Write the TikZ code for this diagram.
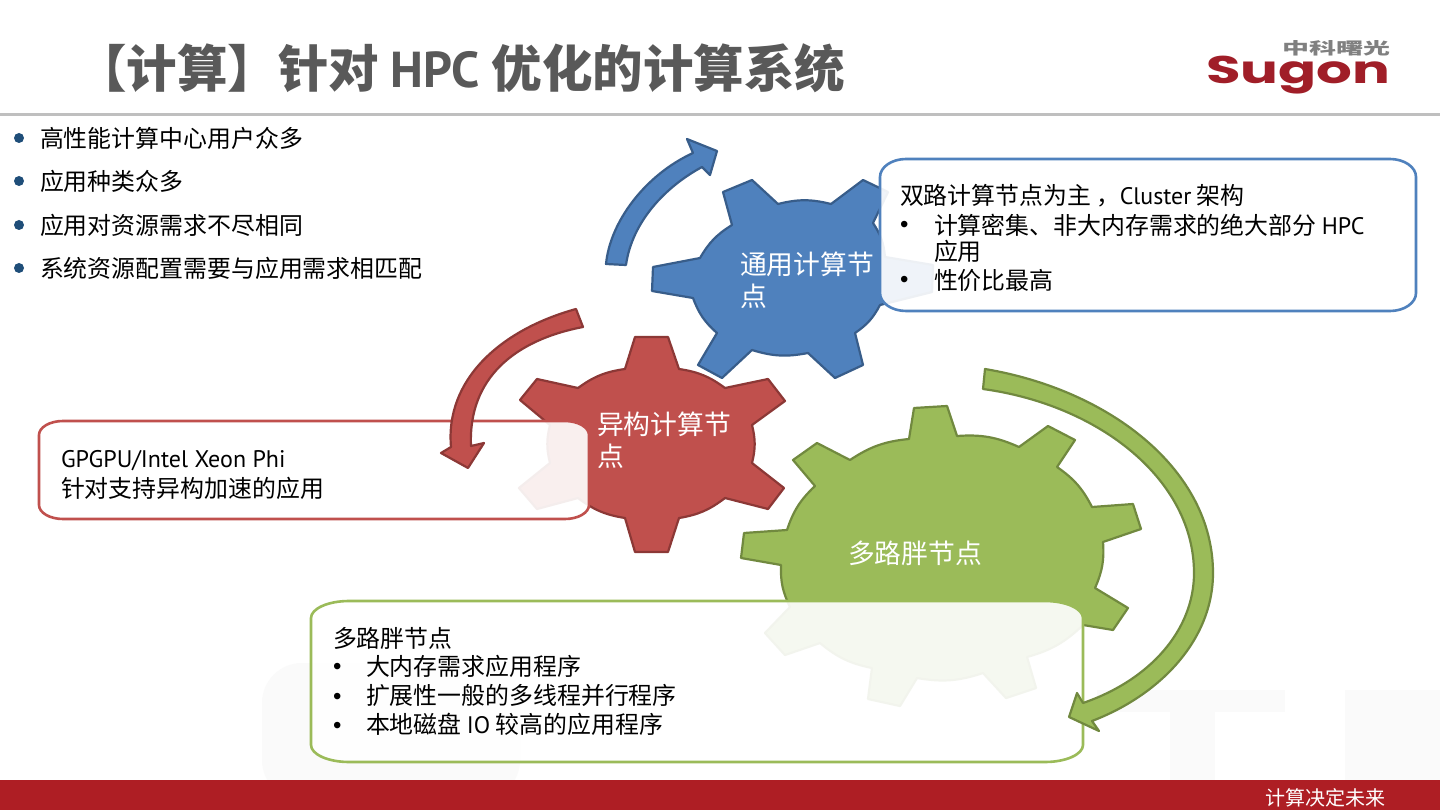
\documentclass[tikz,border=0pt]{standalone}
\usepackage{fontspec}
\usepackage{xcolor}
\setmainfont{Noto Sans CJK SC}
\newfontfamily\logofont{Poppins}
\newfontfamily\latinfont{PT Sans}
\newfontfamily\dotfont{Liberation Sans}
\usetikzlibrary{arrows.meta,positioning}
\definecolor{gearblue}{RGB}{79,129,189}
\definecolor{gearred}{RGB}{192,80,77}
\definecolor{geargreen}{RGB}{155,187,89}
\definecolor{edgeblue}{RGB}{56,93,138}
\definecolor{edgered}{RGB}{140,56,54}
\definecolor{edgegreen}{RGB}{113,137,63}
\definecolor{bandred}{RGB}{174,30,36}
\definecolor{logored}{RGB}{160,30,40}
\definecolor{titlegray}{RGB}{89,89,89}
\definecolor{rulegray}{RGB}{191,191,191}
\definecolor{dotblue}{RGB}{31,78,121}
\definecolor{markgray}{RGB}{250,250,250}
% x0 y0 x1 y1 rx ry
\newcommand{\calloutbox}[6]{({#1+#5},#2) -- ({#3-#5},#2) .. controls ({#3-.45*#5},#2) and (#3,{#2+.45*#6}) .. (#3,{#2+#6})
  -- (#3,{#4-#6}) .. controls (#3,{#4-.45*#6}) and ({#3-.45*#5},#4) .. ({#3-#5},#4)
  -- ({#1+#5},#4) .. controls ({#1+.45*#5},#4) and (#1,{#4-.45*#6}) .. (#1,{#4-#6})
  -- (#1,{#2+#6}) .. controls (#1,{#2+.45*#6}) and ({#1+.45*#5},#2) .. ({#1+#5},#2) -- cycle}

\begin{document}
\begin{tikzpicture}[x=1pt,y=-1pt,
  every node/.style={inner sep=0pt,outer sep=0pt},
  gearblue shape/.style={fill=gearblue,draw=edgeblue,line width=2.2pt,line join=round},
  gearred shape/.style={fill=gearred,draw=edgered,line width=2.2pt,line join=round},
  geargreen shape/.style={fill=geargreen,draw=edgegreen,line width=2.2pt,line join=round},
  arc edge/.style={bend left=14},
  callout/.style={fill=white,fill opacity=.91,line width=2.6pt},
  body/.style={anchor=base west,font=\fontsize{23.9}{26}\selectfont,text=black},
  bullet/.style={anchor=base west,font=\fontsize{24}{26}\selectfont\dotfont,text=black},
  gearlabel/.style={anchor=base west,font=\fontsize{26.8}{30}\selectfont,text=white},
  dot/.style={fill=dotblue,circle,minimum size=10pt}]
\useasboundingbox (0,0) rectangle (1440,810);
\fill[white] (0,0) rectangle (1440,810);
% watermark
\fill[markgray,rounded corners=40pt] (262,663) rectangle (520,800);
\fill[markgray] (1097,690) rectangle (1285,712);
\fill[markgray] (1170,690) rectangle (1215,780);
\fill[markgray] (1345,690) rectangle (1440,780);
% header
\node[body,font=\fontsize{50.5}{50}\selectfont\bfseries,text=titlegray] (title) at (76,88) {【计算】针对 {\latinfont HPC} 优化的计算系统};
\draw[rulegray,line width=3pt] (0,114.5) -- (1440,114.5);
\node[anchor=north west,text=gray] (logotop) at (1282,41) {\resizebox{108pt}{14pt}{\bfseries 中科曙光}};
\node[anchor=north west,text=logored] (logo) at (1206,56) {\resizebox*{184pt}{38pt}{\logofont\bfseries Sugon}};
% list
\node[dot] (dotA) at (19,138) {};
\node[body] (itemA) at (40,148) {高性能计算中心用户众多};
\node[dot] (dotB) at (19,181) {};
\node[body] (itemB) at (40,191) {应用种类众多};
\node[dot] (dotC) at (19,225) {};
\node[body] (itemC) at (40,235) {应用对资源需求不尽相同};
\node[dot] (dotD) at (19,268) {};
\node[body] (itemD) at (40,278) {系统资源配置需要与应用需求相匹配};
% gears
\draw[gearblue shape] (723,192) -- (752,180) -- (778,204) to[arc edge] (831,204) -- (863,180) -- (888,192)
  -- (873,223) to[arc edge] (885,257) -- (933,265) -- (932,292) -- (880,305) to[arc edge] (855,333)
  -- (863,365) -- (835,378) -- (808,353) to[arc edge] (752,350) -- (722,378) -- (698,365) -- (717,333)
  to[arc edge] (693,298) -- (652,291) -- (653,267) -- (700,258) to[arc edge] (732,225) -- cycle;
\draw[gearred shape] (635,337) -- (668,337) -- (679,369) to[arc edge] (725,388) -- (768,379) -- (785,401)
  -- (752,425) to[arc edge] (752,463) -- (784,488) -- (768,509) -- (725,498) to[arc edge] (679,518)
  -- (668,552) -- (635,552) -- (625,518) to[arc edge] (578,498) -- (537,509) -- (519,488) -- (550,463)
  to[arc edge] (550,425) -- (520,400) -- (537,379) -- (578,388) to[arc edge] (625,369) -- cycle;
\draw[geargreen shape] (793,460) -- (817,443) -- (850,460) to[arc edge] (909,439) -- (914,408) -- (947,406)
  -- (957,436) to[arc edge] (1019,447) -- (1048,426) -- (1075,440) -- (1057,467) to[arc edge] (1092,507)
  -- (1133,504) -- (1141,529) -- (1103,542) to[arc edge] (1095,588) -- (1128,608) -- (1113,630)
  -- (1083,625) to[arc edge] (1027,657) -- (1036,688) -- (1006,698) -- (983,673) to[arc edge] (917,678)
  -- (900,706) -- (868,699) -- (872,668) to[arc edge] (820,643) -- (785,655) -- (765,633) -- (790,607)
  to[arc edge] (781,565) -- (741,558) -- (744,533) -- (787,530) to[arc edge] (815,486) -- cycle;
% callouts
\draw[callout,draw=gearblue] \calloutbox{880}{159}{1416}{311}{26}{18};
\draw[callout,draw=gearred] \calloutbox{39}{421}{589}{519}{24}{14};
\draw[callout,draw=geargreen] \calloutbox{311}{601}{1083}{762}{38}{17};
% turning arrows
\draw[gearblue shape] (606,264) .. controls (610,222) and (645,175) .. (693,153) -- (687,139) -- (717,151)
  -- (710,175) -- (702,167) .. controls (665,187) and (632,222) .. (626,265) -- cycle;
\draw[gearred shape] (576,309) .. controls (500,330) and (445,380) .. (451,447) -- (441,453) -- (468,468)
  -- (484,443) -- (471,446) .. controls (468,378) and (515,340) .. (583,327) -- cycle;
\draw[geargreen shape] (985,369) .. controls (1110,390) and (1213,470) .. (1213,573)
  .. controls (1213,640) and (1160,695) .. (1092,721) -- (1099,731) -- (1069,717) -- (1077,693) -- (1083,703)
  .. controls (1150,680) and (1194,630) .. (1194,573) .. controls (1194,480) and (1100,405) .. (983,389) -- cycle;
% gear labels
\node[gearlabel] (blueA) at (740,275) {通用计算节};
\node[gearlabel] (blueB) at (740,307) {点};
\node[gearlabel] (redA) at (597,434) {异构计算节};
\node[gearlabel] (redB) at (597,466) {点};
\node[gearlabel] (greenA) at (848,563) {多路胖节点};
% callout text
\node[body] (blueHead) at (900,205) {双路计算节点为主 ，\kern-6pt\ {\latinfont Cluster} 架构};
\node[bullet] (blueDotA) at (900,233) {•};
\node[body] (blueLineA) at (934,235) {计算密集、非大内存需求的绝大部分 {\latinfont HPC}};
\node[body] (blueLineB) at (934,261) {应用};
\node[bullet] (blueDotB) at (900,288) {•};
\node[body] (blueLineC) at (934,290) {性价比最高};
\node[body,font=\fontsize{24}{26}\selectfont\latinfont] (redHead) at (61,467) {GPGPU/Intel Xeon Phi};
\node[body] (redLine) at (61,497) {针对支持异构加速的应用};
\node[body] (greenHead) at (333,647) {多路胖节点};
\node[bullet] (greenDotA) at (333,674) {•};
\node[body] (greenLineA) at (366,675) {大内存需求应用程序};
\node[bullet] (greenDotB) at (333,704) {•};
\node[body] (greenLineB) at (366,704) {扩展性一般的多线程并行程序};
\node[bullet] (greenDotC) at (333,733) {•};
\node[body] (greenLineC) at (366,733) {本地磁盘 {\latinfont IO} 较高的应用程序};
% footer
\fill[bandred] (0,780) rectangle (1440,810);
\node[font=\fontsize{20}{20}\selectfont,text=white] (slogan) at (1325,798) {计算决定未来};
\end{tikzpicture}
\end{document}
